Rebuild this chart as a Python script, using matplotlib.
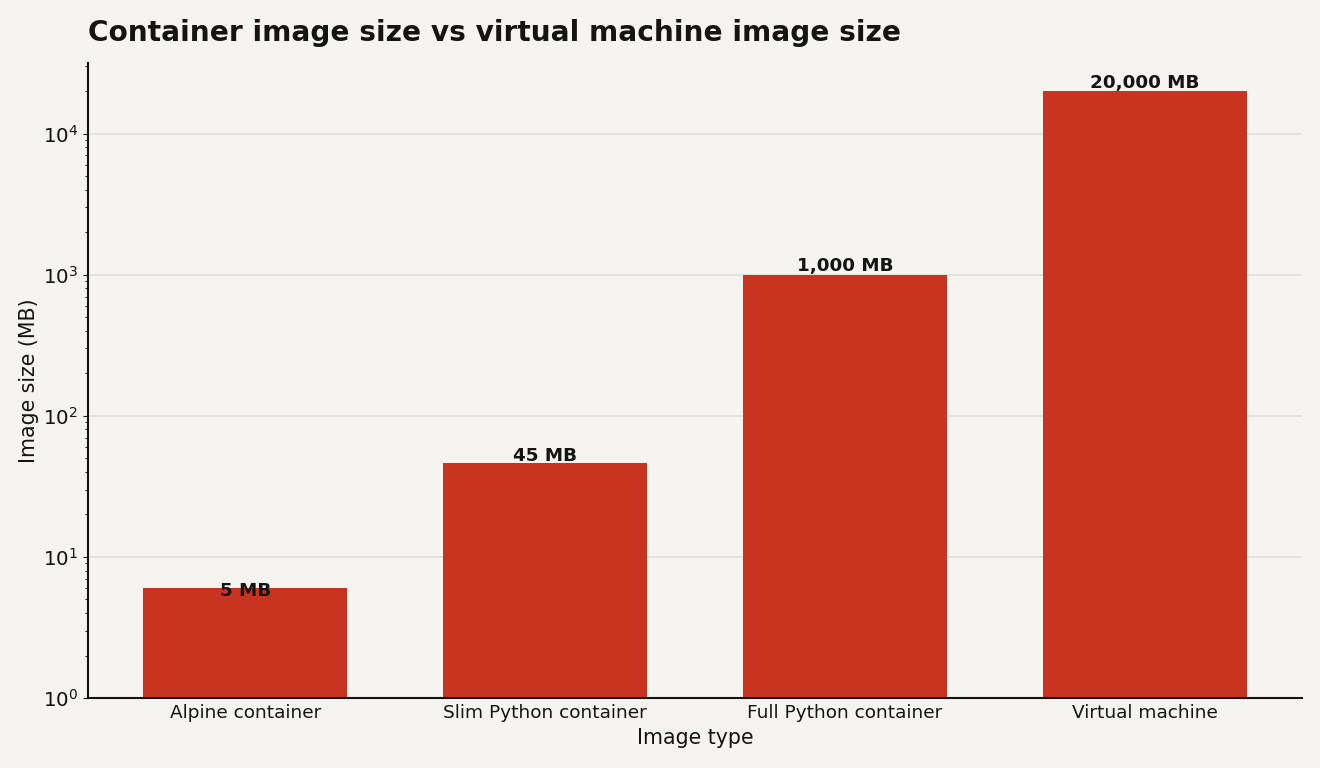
import matplotlib.pyplot as plt
import numpy as np

plt.rcParams['font.family'] = ['DejaVu Sans']

categories = ['Alpine container', 'Slim Python container', 'Full Python container', 'Virtual machine']
sizes_mb = [5, 45, 1000, 20000]
labels = ['5 MB', '45 MB', '1,000 MB', '20,000 MB']

bg = '#f5f4f0'
bar_color = '#c93420'
ink = '#141412'

fig, ax = plt.subplots(figsize=(13.2, 7.68), dpi=100)
fig.patch.set_facecolor(bg)
ax.set_facecolor(bg)

x = np.arange(len(categories))
# bars start at 1 so they show on the log axis
ax.bar(x, sizes_mb, bottom=1, width=0.68, color=bar_color, zorder=2)
ax.set_yscale('log')
ax.set_ylim(1, 10 ** 4.5)

for xi, v, lab in zip(x, sizes_mb, labels):
    ax.annotate(lab, (xi, v), xytext=(0, 6), textcoords='offset points',
                ha='center', va='center', fontsize=13.2, fontweight='bold', color=ink, zorder=3)

ax.set_xticks(x)
ax.set_xticklabels(categories, fontsize=13.3, color=ink)
ax.tick_params(axis='y', labelsize=14.3, colors=ink)
ax.tick_params(axis='x', length=0, pad=4)
ax.set_xlabel('Image type', fontsize=14.8, color=ink, labelpad=5)
ax.set_ylabel('Image size (MB)', fontsize=14.8, color=ink, labelpad=3)
ax.set_title('Container image size vs virtual machine image size', loc='left',
             fontsize=20.2, fontweight='bold', color=ink, pad=16)

ax.grid(axis='y', which='major', color='#e0dfd8', linewidth=1.2, zorder=0)
ax.set_axisbelow(True)
for s in ['top', 'right']:
    ax.spines[s].set_visible(False)
for s in ['left', 'bottom']:
    ax.spines[s].set_linewidth(1.5)
    ax.spines[s].set_color(ink)

fig.subplots_adjust(left=88 / 1320, right=1302 / 1320, top=1 - 63 / 768, bottom=1 - 698 / 768)
plt.savefig('out.png', facecolor=bg)
